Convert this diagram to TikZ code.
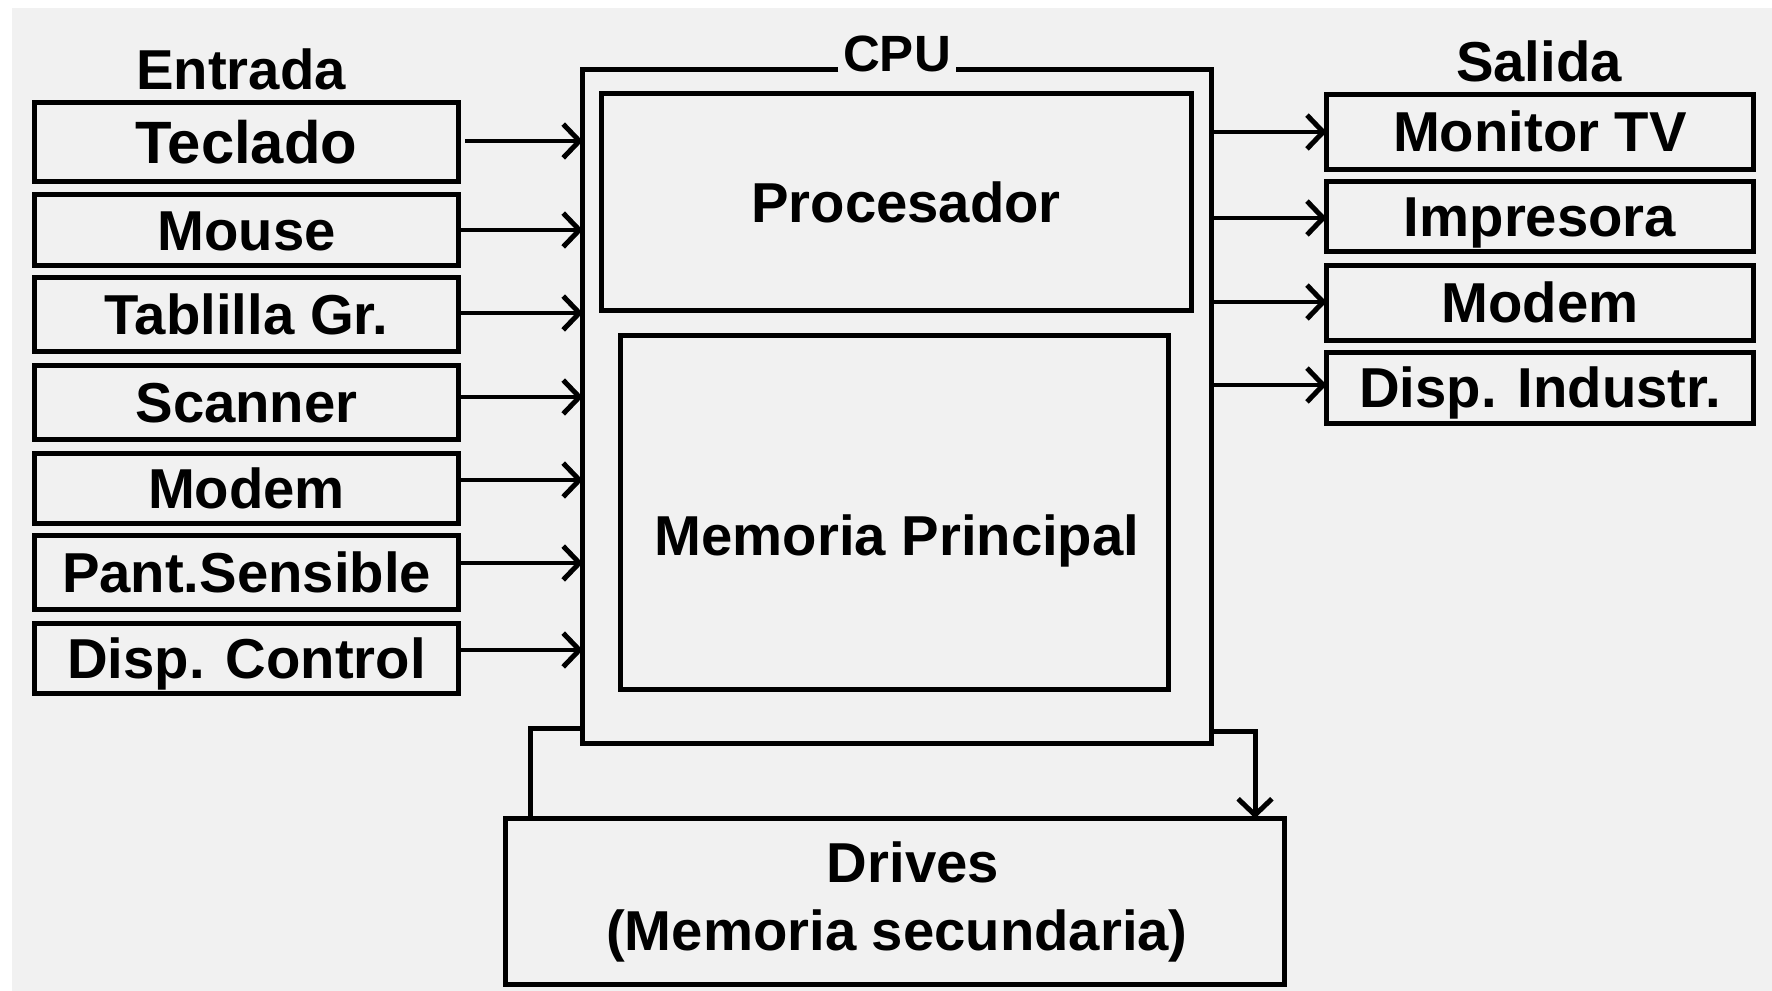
\documentclass[tikz,border=0pt]{standalone}
\usepackage{fontspec}
\setmainfont{Liberation Sans}
\usetikzlibrary{arrows.meta}
\definecolor{panel}{HTML}{F1F1F1}
\begin{document}
\begin{tikzpicture}[x=0.01cm,y=-0.01cm,
  box/.style={draw,line width=1.42pt,inner sep=0pt,outer sep=0pt},
  lbl/.style={font=\fontsize{16}{19}\selectfont\bfseries,text height=11.45pt,text depth=0pt,inner sep=0pt},
  inbox/.style={box,lbl,minimum width=4.24cm},
  outbox/.style={box,lbl,minimum width=4.265cm},
  flow/.style={line width=1.42pt,-{Straight Barb[length=4.6pt,width=9.6pt]}},
  wire/.style={line width=1.42pt}
]
% canvas
\useasboundingbox (0,0) rectangle (1772,991);
\fill[white] (0,0) rectangle (1772,991);
\fill[panel] (12,8) rectangle (1772,991);

% column titles
\node[lbl] (entrada) at (241,69.5) {Entrada};
\node[lbl] (salida) at (1539,61) {Salida};

% input devices
\node[inbox,minimum height=0.79cm,font=\fontsize{17}{20}\selectfont\bfseries,text height=12.2pt] (teclado) at (246.5,142) {Teclado};
\node[inbox,minimum height=0.71cm] (mouse) at (246.5,230) {Mouse};
\node[inbox,minimum height=0.74cm] (tablilla) at (246.5,314.5) {Tablilla Gr.};
\node[inbox,minimum height=0.74cm] (scanner) at (246.5,402.5) {Scanner};
\node[inbox,minimum height=0.70cm] (modemin) at (246.5,488.5) {Modem};
\node[inbox,minimum height=0.74cm] (pantalla) at (246.5,572.5) {Pant.Sensible};
\node[inbox,minimum height=0.70cm] (control) at (246.5,658.5) {Disp. Control};

% CPU frame (outline drawn below, with a gap for its title)
\node[inner sep=0pt,outer sep=0pt,minimum width=6.285cm,minimum height=6.74cm] (cpu) at (897.25,406.5) {};
\node[lbl,font=\fontsize{14.5}{17}\selectfont\bfseries,text height=10.4pt,inner xsep=1.2pt] (cputitle) at (897,53) {CPU};
\draw[wire] (cputitle.west |- cpu.north) -- (cpu.north west) -- (cpu.south west)
  -- (cpu.south east) -- (cpu.north east) -- (cputitle.east |- cpu.north);

\node[box,minimum width=5.89cm,minimum height=2.165cm] (proc) at (896.5,202) {};
\node[lbl] (proctext) at (906,202.5) {Procesador};
\node[box,minimum width=5.475cm,minimum height=3.54cm] (mem) at (894.75,512.75) {};
\node[lbl] (memtext) at (897,535) {Memoria Principal};

% output devices
\node[outbox,minimum height=0.745cm] (monitor) at (1540,131.75) {Monitor TV};
\node[outbox,minimum height=0.70cm] (impresora) at (1540,216.6) {Impresora};
\node[outbox,minimum height=0.745cm] (modemout) at (1540,302.75) {Modem};
\node[outbox,minimum height=0.705cm] (industr) at (1540,387.75) {Disp. Industr.};

% secondary storage
\node[box,minimum width=7.78cm,minimum height=1.655cm] (drives) at (895,901.25) {};
\node[lbl] (drivesa) at (913,862.5) {Drives};
\node[lbl] (drivesb) at (897,930.5) {(Memoria secundaria)};

% inputs into the CPU
\draw[flow] ([xshift=0.065cm]teclado.east |- 0,141) -- (cpu.west |- 0,141);
\draw[flow] (mouse.east |- 0,230) -- (cpu.west |- 0,230);
\draw[flow] (tablilla.east |- 0,313) -- (cpu.west |- 0,313);
\draw[flow] (scanner.east |- 0,397) -- (cpu.west |- 0,397);
\draw[flow] (modemin.east |- 0,480) -- (cpu.west |- 0,480);
\draw[flow] (pantalla.east |- 0,563) -- (cpu.west |- 0,563);
\draw[flow] (control.east |- 0,650) -- (cpu.west |- 0,650);

% CPU to outputs
\draw[flow] (cpu.east |- 0,132) -- (monitor.west |- 0,132);
\draw[flow] (cpu.east |- 0,218) -- (impresora.west |- 0,218);
\draw[flow] (cpu.east |- 0,302) -- (modemout.west |- 0,302);
\draw[flow] (cpu.east |- 0,385) -- (industr.west |- 0,385);

% links with the drives
\draw[wire] (cpu.west |- 0,728) -| (drives.north -| 530,0);
\draw[flow] (cpu.east |- 0,731.5) -| (drives.north -| 1255,0);
\end{tikzpicture}
\end{document}
